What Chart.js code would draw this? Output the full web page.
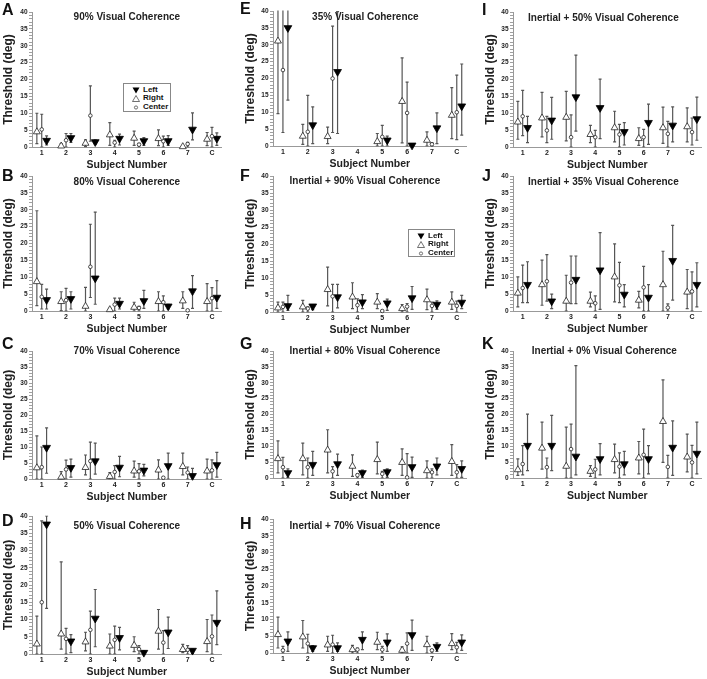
<!DOCTYPE html>
<html>
<head>
<meta charset="utf-8">
<script src="https://cdn.jsdelivr.net/npm/chart.js@4.4.0/dist/chart.umd.min.js"></script>
<style>
html, body { margin: 0; padding: 0; background: #fff; overflow: hidden; }
body { width: 707px; height: 679px; position: relative; font-family: 'Liberation Sans', Arial, sans-serif; }
canvas { position: absolute; }
.letter { position: absolute; font-weight: bold; font-size: 16px; line-height: 1; color: #111; }
.legend { position: absolute; box-sizing: border-box; border: 1px solid #888; background: #fff;
          font-weight: bold; font-size: 8px; color: #111; padding-top: 1.5px; }
.legend div { height: 8.8px; line-height: 8.8px; position: relative; white-space: nowrap; }
.legend svg { position: absolute; top: 1.2px; }
</style>
</head>
<body>
<script>
// subjects on the x axis
var subjects = ['1', '2', '3', '4', '5', '6', '7', 'C'];

// each entry: [threshold, lower end of bar, upper end of bar]
var A_right  = [[4.5,1,10],[0.3,0,1],[1.1,0.1,2.1],[3.6,0.5,7.2],[2.6,0.5,4.7],[2.5,0.4,5.1],[0.1,0,0.4],[2.3,0.4,4.3]];
var A_center = [[5.2,0,9.7],[2.0,0,4.0],[9.3,1.7,18.1],[1.3,0,2.0],[0.7,0,1.1],[1.7,0,3.2],[0.9,0,1.4],[3.2,0,5.8]];
var A_left   = [[1.9,0.6,3.3],[2.7,1.4,4.0],[1.5,0.9,2.1],[2.5,0.6,3.8],[1.8,0.5,2.8],[1.8,0.5,3.4],[5.2,2.1,10.1],[2.5,0.5,4.2]];

var B_right  = [[8.7,1.6,29.7],[2.8,0.1,5.7],[1.4,0,7.0],[0.4,0,0.8],[1.1,0,2.6],[2.8,0,5.7],[3.0,0.8,5.7],[2.8,0,8.1]];
var B_center = [[4.2,0.6,7.9],[3.2,0,6.7],[13.1,4.0,25.7],[1.9,0,3.8],[0.9,0,1.4],[2.6,0,4.5],[0.2,0,0.4],[3.8,0,6.9]];
var B_left   = [[3.3,0.6,6.5],[3.6,0.6,5.7],[9.7,2.0,29.3],[2.2,0.6,3.8],[3.0,0.8,6.1],[1.4,0.6,2.0],[5.9,0.8,10.5],[4.0,0.8,9.0]];

var C_right  = [[3.5,0,13.5],[0.6,0,2.3],[3.6,1.3,7.5],[0.8,0,2.0],[2.5,0.6,5.6],[2.8,0,6.0],[3.9,1.3,8.1],[2.5,0,6.2]];
var C_center = [[3.7,0,10],[3.0,0,5.9],[5.6,0,11.5],[2.2,0,4.2],[2.4,0,4.8],[0.4,0,0.6],[2.0,0,3.75],[2.7,0,6.0]];
var C_left   = [[9.8,1.8,16],[3.5,0.6,6.2],[5.6,1.5,11.2],[3.6,0.7,7.1],[2.7,1.0,4.6],[4.1,0,8.1],[1.0,0,3.3],[4.4,0.6,8.3]];

var D_right  = [[2.9,0,11],[5.8,1.4,26.7],[3.5,0.9,6.3],[2.3,0,5.8],[2.5,0.7,5.0],[6.6,1.4,12.9],[1.3,0.4,2.8],[3.6,0.7,10.0]];
var D_center = [[15.0,0,38.6],[4.4,0,7.4],[7.0,0,12.4],[4.1,0,8.1],[1.4,0,2.4],[3.3,0,6.8],[1.2,0,2.4],[5.1,0,11.3]];
var D_left   = [[37.6,13.2,40],[3.7,0.4,5.6],[10.3,2.1,18.7],[4.7,1.2,7.7],[0.4,0,1.0],[6.3,1.6,10.7],[1.0,0.2,1.4],[9.1,2.7,18.3]];

var E_right  = [[31.1,9.6,45],[2.9,0.5,6.4],[2.8,0.7,5.6],null,[1.3,0,3.7],[13.2,0.9,26.1],[1.7,0,4.2],[9.1,2.2,17.3]];
var E_center = [[22.5,4.0,45],[4.2,0,15.0],[20.0,4.0,35.5],null,[2.7,0,6.1],[9.8,0,18.9],[0.5,0,1.0],[10.0,1.9,21.0]];
var E_left   = [[35.0,13.6,45],[6.2,0.7,11.6],[22.0,3.7,39.8],null,[1.7,0,2.9],[0.2,0,0.7],[5.3,0.7,9.8],[11.8,3.2,24.3]];

var F_right  = [[1.2,0,2.9],[1.5,0,3.4],[6.6,1.8,13.2],[4.4,1.0,8.6],[2.9,1.0,5.4],[1.0,0,2.2],[3.6,0.7,6.7],[2.9,0.8,5.9]];
var F_center = [[1.5,0,2.9],[1.0,0,1.5],[4.6,0,8.1],[2.0,0,3.9],[0.3,0,0.5],[1.6,0,2.5],[1.8,0,2.9],[1.8,0,3.2]];
var F_left   = [[1.8,0.5,4.9],[1.7,0.7,2.2],[4.4,1.2,8.1],[2.9,1.0,5.1],[2.6,0.5,3.8],[4.1,0.8,7.5],[2.2,0.8,3.3],[2.8,1.0,4.9]];

var G_right  = [[6.1,1.6,11.7],[6.1,1.0,11.0],[8.8,1.6,15.2],[3.7,0.5,7.3],[5.8,1.3,11.3],[4.9,0.8,9.2],[2.3,0,5.4],[5.2,0.8,10.5]];
var G_center = [[3.4,0,6.5],[3.4,0,6.3],[2.1,0,3.6],[0.9,0,1.3],[1.3,0,2.1],[0.2,0,7.7],[1.8,0,2.9],[1.8,0,4.2]];
var G_left   = [[1.6,0.2,2.9],[4.2,0.8,8.4],[4.4,0.8,7.5],[1.6,0.2,2.5],[1.9,0.2,2.9],[3.5,0.2,6.6],[3.7,1.0,6.3],[2.9,0.2,5.4]];

var H_right  = [[5.5,1.5,10.7],[4.8,1.5,9.7],[2.4,0.5,5.0],[1.0,0,2.3],[3.2,1.0,6.2],[0.8,0,1.8],[2.5,0,5.0],[2.8,1.0,5.8]];
var H_center = [[0.8,0,2.0],[2.8,0,5.6],[2.5,0,5.3],[1.0,0,1.5],[1.0,0,2.0],[2.8,0,6.0],[0.8,0,1.0],[1.7,0,3.2]];
var H_left   = [[3.5,0.5,6.3],[1.5,0.5,2.2],[1.5,0.5,3.0],[4.0,1.0,6.3],[3.2,0.5,5.7],[5.4,0.8,9.8],[1.9,0.5,3.0],[3.2,0.8,5.4]];

var I_right  = [[7.4,2.3,13.5],[8.6,3.0,16.2],[8.8,1.8,16.5],[3.7,1.3,6.4],[5.7,1.5,10.6],[2.5,0.5,5.7],[5.7,1.1,11.8],[6.0,1.5,11.6]];
var I_center = [[9.1,3.4,16.8],[4.9,1.3,9.1],[2.9,0,9.5],[2.9,0,4.9],[3.7,0,6.7],[2.9,0,5.2],[3.9,0,7.6],[4.4,0.6,8.6]];
var I_left   = [[5.7,1.3,9.1],[7.9,2.3,14.7],[14.8,4.7,27.2],[11.6,2.5,20.1],[4.5,0.6,7.2],[7.2,0.8,12.7],[6.4,1.5,11.9],[8.3,2.0,14.8]];

var J_right  = [[5.3,1.2,10.1],[7.8,1.7,15.1],[2.9,0,10.6],[2.9,1.2,5.6],[10.1,2.7,19.9],[3.2,0.9,5.8],[7.8,0,17.7],[5.6,0.7,12.3]];
var J_center = [[6.8,2.5,13.6],[8.8,2.9,16.7],[8.4,2.2,16.3],[2.3,0,4.5],[7.6,2.5,14.4],[7.0,0,13.2],[1.0,0,2.1],[5.8,0,11.6]];
var J_left   = [[7.8,2.5,14.6],[2.9,0.7,5.0],[9.3,2.2,16.3],[12.1,0.5,23.2],[4.9,1.2,7.8],[4.0,0,7.8],[14.9,3.2,25.4],[7.8,1.2,14.3]];

var K_right  = [[2.6,0.8,6.0],[9.4,2.8,17.6],[3.7,0,16.0],[2.1,0.5,3.9],[5.8,1.6,10.7],[6.3,1.3,11.5],[17.8,4.9,30.9],[6.6,1.9,13.8]];
var K_center = [[4.4,1.0,10.2],[3.4,0,6.3],[9.1,0,17.0],[2.7,0,5.9],[3.6,0,7.9],[7.3,0,15.4],[3.5,0,7.1],[4.9,0,10.3]];
var K_left   = [[10.2,2.3,20.1],[10.2,2.3,19.7],[6.8,1.0,35.4],[6.0,1.0,10.8],[4.4,1.0,8.4],[6.0,1.3,10.2],[9.6,0.8,18.0],[7.7,1.3,17.6]];

var FONT = "'Liberation Sans', Arial, sans-serif";

// marker look per series (same order as the data triples below)
var seriesStyle = [
    { label: 'Right',  off: -0.2, style: 'triangle', rot: 0,   r: 4.0, bg: '#fff', bd: '#222' },
    { label: 'Center', off: 0,    style: 'circle',   rot: 0,   r: 1.8, bg: '#fff', bd: '#222' },
    { label: 'Left',   off: 0.2,  style: 'triangle', rot: 180, r: 4.5, bg: '#000', bd: '#000' }
];

// plot rectangles [left, top, right, bottom] in page pixels
var panels = [
    { id: 'A', title: '90% Visual Coherence', rect: [32, 12, 223, 147], dy: 5.7, dx: 0, letter: [2, 4], sets: [A_right, A_center, A_left] },
    { id: 'B', title: '80% Visual Coherence', rect: [32, 176, 223, 311], dy: 6.3, dx: 0, letter: [2, 170], sets: [B_right, B_center, B_left] },
    { id: 'C', title: '70% Visual Coherence', rect: [32, 351, 223, 479], dy: 0.5, dx: 0, letter: [2, 338], sets: [C_right, C_center, C_left] },
    { id: 'D', title: '50% Visual Coherence', rect: [32, 516, 223, 654], dy: 10, dx: 0, letter: [2, 515], sets: [D_right, D_center, D_left] },
    { id: 'E', title: '35% Visual Coherence', rect: [273, 11, 468, 146], dy: 6.3, dx: -4.5, letter: [240, 3], sets: [E_right, E_center, E_left] },
    { id: 'F', title: 'Inertial + 90% Visual Coherence', rect: [273, 176, 468, 312], dy: 5.7, dx: -5, letter: [240, 170], sets: [F_right, F_center, F_left] },
    { id: 'G', title: 'Inertial + 80% Visual Coherence', rect: [273, 351, 468, 478], dy: 0.5, dx: -5, letter: [240, 338], sets: [G_right, G_center, G_left] },
    { id: 'H', title: 'Inertial + 70% Visual Coherence', rect: [273, 519, 468, 653], dy: 7.7, dx: -5, letter: [240, 518], sets: [H_right, H_center, H_left] },
    { id: 'I', title: 'Inertial + 50% Visual Coherence', rect: [513, 12, 705, 147], dy: 6.7, dx: -4, letter: [482, 4], sets: [I_right, I_center, I_left] },
    { id: 'J', title: 'Inertial + 35% Visual Coherence', rect: [513, 176, 705, 311], dy: 6.3, dx: -4, letter: [482, 170], sets: [J_right, J_center, J_left] },
    { id: 'K', title: 'Inertial + 0% Visual Coherence', rect: [513, 351, 705, 478], dy: 0.7, dx: -3, letter: [482, 338], sets: [K_right, K_center, K_left] }
];

// legend boxes [left, top, width, height]
var legends = [[123, 83, 48, 29], [408, 229, 47, 28]];

// draws the vertical bars under the markers
var errorBars = {
    id: 'errorBars',
    beforeDatasetsDraw: function (chart) {
        var ctx = chart.ctx, area = chart.chartArea, y = chart.scales.y;
        ctx.save();
        ctx.beginPath();
        ctx.rect(area.left - 5, area.top - 0.5, area.width + 10, area.height + 1);
        ctx.clip();
        ctx.strokeStyle = '#555';
        ctx.lineWidth = 1.2;
        chart.data.datasets.forEach(function (ds, di) {
            var meta = chart.getDatasetMeta(di);
            ds.data.forEach(function (pt, i) {
                if (pt.y == null) return;
                var x = meta.data[i].x;
                var yl = y.getPixelForValue(pt.lo), yh = y.getPixelForValue(pt.hi);
                ctx.beginPath();
                ctx.moveTo(x, yl); ctx.lineTo(x, yh);
                ctx.moveTo(x - 1.5, yh); ctx.lineTo(x + 1.5, yh);
                ctx.moveTo(x - 1.5, yl); ctx.lineTo(x + 1.5, yl);
                ctx.stroke();
            });
        });
        ctx.restore();
    }
};

// panel heading sits inside the plot area
var panelTitle = {
    id: 'panelTitle',
    afterDraw: function (chart, args, opts) {
        var ctx = chart.ctx, area = chart.chartArea;
        ctx.save();
        ctx.font = 'bold 10px ' + FONT;
        ctx.fillStyle = '#222';
        ctx.textAlign = 'center';
        ctx.textBaseline = 'middle';
        ctx.fillText(opts.text, (area.left + area.right) / 2 + opts.dx, area.top + opts.dy);
        ctx.restore();
    }
};

function makePanel(p) {
    var L = p.rect[0], T = p.rect[1], R = p.rect[2], B = p.rect[3];
    var wy = 32, hx = 24, padTop = 6, padRight = (L > 500) ? 2 : 4;
    var cv = document.createElement('canvas');
    cv.width = wy + (R - L) + padRight;
    cv.height = padTop + (B - T) + hx;
    cv.style.left = (L - wy) + 'px';
    cv.style.top = (T - padTop) + 'px';
    document.body.appendChild(cv);

    var letter = document.createElement('div');
    letter.className = 'letter';
    letter.textContent = p.id;
    letter.style.left = p.letter[0] + 'px';
    letter.style.top = (p.letter[1] - 2) + 'px';
    document.body.appendChild(letter);

    var datasets = p.sets.map(function (vals, si) {
        var s = seriesStyle[si];
        return {
            label: s.label,
            data: vals.map(function (v, i) {
                if (!v) return { x: i + 1 + s.off, y: null };
                return { x: i + 1 + s.off, y: v[0], lo: v[1], hi: v[2] };
            }),
            pointStyle: s.style,
            rotation: s.rot,
            pointRadius: s.r,
            pointBackgroundColor: s.bg,
            pointBorderColor: s.bd,
            pointBorderWidth: 0.8,
            showLine: false,
            clip: false
        };
    });

    new Chart(cv.getContext('2d'), {
        type: 'scatter',
        data: { datasets: datasets },
        options: {
            responsive: false,
            animation: false,
            events: [],
            layout: { padding: { top: padTop, right: padRight, left: 0, bottom: 0 } },
            plugins: {
                legend: { display: false },
                tooltip: { enabled: false },
                panelTitle: { text: p.title, dx: p.dx, dy: p.dy }
            },
            scales: {
                x: {
                    type: 'linear',
                    min: 0.6,
                    max: 8.4,
                    afterFit: function (s) { s.height = hx; },
                    grid: { display: false, drawTicks: false },
                    border: { display: true, color: '#999', width: 1 },
                    ticks: {
                        stepSize: 1, includeBounds: false, autoSkip: false, maxRotation: 0,
                        padding: 2, color: '#222', font: { family: FONT, size: 7, weight: 'bold' },
                        callback: function (v) { return subjects[Math.round(v) - 1] || ''; }
                    },
                    title: {
                        display: true, text: 'Subject Number', color: '#222',
                        font: { family: FONT, size: 10.5, weight: 'bold' },
                        padding: { top: 0, bottom: 0 }
                    }
                },
                y: {
                    min: 0,
                    max: 40,
                    afterFit: function (s) { s.width = wy; },
                    grid: { drawOnChartArea: false, drawTicks: true, tickLength: 3, color: '#777', lineWidth: 0.7 },
                    border: { display: true, color: '#999', width: 1 },
                    ticks: {
                        stepSize: 1, autoSkip: false, padding: 1.5, color: '#222',
                        font: { family: FONT, size: 6.5, weight: 'bold' },
                        callback: function (v) { return v % 5 === 0 ? String(v) : ''; }
                    },
                    title: {
                        display: true, text: 'Threshold (deg)', color: '#222',
                        font: { family: FONT, size: 12, weight: 'bold' },
                        padding: { top: L > 100 ? 2.5 : 1, bottom: 0 }
                    }
                }
            }
        },
        plugins: [errorBars, panelTitle]
    });
}

function legendSymbol(s) {
    if (s.label === 'Left') return '<svg width="8" height="7"><polygon points="0.5,0.5 7.5,0.5 4,6.5" fill="#000"/></svg>';
    if (s.label === 'Right') return '<svg width="8" height="7"><polygon points="4,0.5 7.5,6.5 0.5,6.5" fill="#fff" stroke="#333" stroke-width="0.7"/></svg>';
    return '<svg width="8" height="7"><circle cx="4" cy="3.5" r="1.6" fill="#fff" stroke="#333" stroke-width="0.7"/></svg>';
}

function makeLegend(box) {
    var d = document.createElement('div');
    d.className = 'legend';
    d.style.left = box[0] + 'px';
    d.style.top = box[1] + 'px';
    d.style.width = box[2] + 'px';
    d.style.height = box[3] + 'px';
    var order = [seriesStyle[2], seriesStyle[0], seriesStyle[1]];
    d.innerHTML = order.map(function (s) {
        return '<div><span style="position:absolute;left:8px;top:0">' + legendSymbol(s) + '</span>' +
               '<span style="position:absolute;left:19px">' + s.label + '</span></div>';
    }).join('');
    document.body.appendChild(d);
}

panels.forEach(makePanel);
legends.forEach(makeLegend);
</script>
</body>
</html>
